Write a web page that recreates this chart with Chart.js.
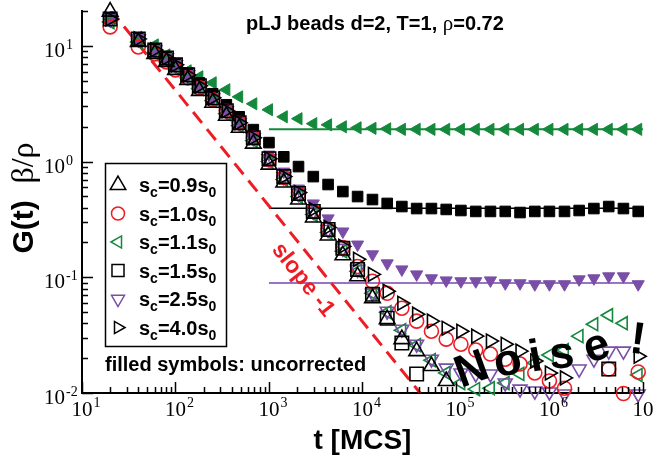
<!DOCTYPE html>
<html>
<head>
<meta charset="utf-8">
<script src="https://cdn.jsdelivr.net/npm/chart.js@4.4.0/dist/chart.umd.min.js"></script>
<style>
  html, body { margin: 0; padding: 0; background: #fff; }
  #wrap { width: 654px; height: 456px; position: relative; }
</style>
</head>
<body>
<div id="wrap"><canvas id="chart"></canvas></div>
<script>
// time grid [MCS]
const times = [20, 40, 60, 80, 100, 135, 180, 250, 350, 480, 680, 1000, 1440, 2070, 2980,
  4290, 6170, 8870, 12800, 18400, 26400, 38000, 54700, 78700, 113000, 163000, 234000,
  337000, 485000, 698000, 1000000, 1450000, 2080000, 2990000, 4310000, 6190000, 8910000];

// corrected G(t) beta/rho (open symbols)
const g09 = [19.8, 10.8, 8.53, 7.28, 6.21, 5.09, 4.09, 3.23, 2.49, 1.96, 1.43, 0.942, 0.659,
  0.470, 0.329, 0.230, 0.155, 0.102, 0.0659, 0.0435, 0.0292, 0.0230, 0.0171, 0.0127,
  null, null, null, null, null, null, null, null, null, null, null, null, null];
const g10 = [14.6, 9.8, 8.53, 7.28, 6.21, 5.30, 4.34, 3.42, 2.75, 2.17, 1.61, 1.04, 0.728,
  0.530, 0.371, 0.259, 0.181, 0.124, 0.0924, 0.0728, 0.0541, 0.0418, 0.0342, 0.0292,
  0.0264, 0.0235, 0.0217, 0.0196, 0.0178, 0.0149, 0.0127, 0.0110, null, null, 0.0161,
  0.0099, 0.0152];
const g11 = [16.1, 10.8, 8.70, 7.42, 6.46, 5.30, 4.26, 3.36, 2.59, 2.04, 1.52, 1.0, 0.700,
  0.499, 0.349, 0.244, 0.168, 0.113, 0.0728, 0.0499, 0.0349, 0.0259, 0.0192, 0.0149,
  0.0122, 0.0108, 0.0110, 0.0122, 0.0146, 0.0182, 0.0213, 0.0235, 0.0310, 0.0393, 0.0470,
  0.0401, 0.0143];
const g15 = [17.1, 11.5, 9.24, 7.88, 6.86, 5.62, 4.52, 3.56, 2.75, 2.17, 1.61, 1.06, 0.742,
  0.530, 0.371, 0.259, 0.178, 0.117, 0.0713, 0.0443, 0.0270, 0.0146, null, null, null,
  null, null, null, null, null, null, null, null, null, 0.0161, null, null];
const g25 = [17.1, 11.5, 9.24, 7.88, 6.86, 5.62, 4.52, 3.56, 2.75, 2.17, 1.61, 1.06, 0.742,
  0.530, 0.371, 0.259, 0.178, 0.117, 0.0728, 0.0509, 0.0356, 0.0264, 0.0196, 0.0164,
  0.0149, 0.0146, 0.0146, 0.0122, 0.0108, 0.0104, 0.0102, 0.0098, 0.0161, 0.0196, 0.0230,
  0.0230, 0.0098];
const g40 = [17.1, 11.5, 9.24, 7.88, 6.86, 5.62, 4.52, 3.56, 2.75, 2.17, 1.61, 1.06, 0.742,
  0.541, 0.386, 0.270, 0.185, 0.143, 0.106, 0.0757, 0.0597, 0.0480, 0.0418, 0.0363,
  0.0342, 0.0310, 0.0281, 0.0264, 0.0230, 0.0189, 0.0149, 0.0135, null, null, null, null,
  0.0208];

// uncorrected (filled symbols)
const g11raw = [17.1, 11.9, 10.2, 8.36, 7.0, 6.09, 5.41, 4.80, 4.18, 3.63, 3.16, 2.81, 2.44,
  2.35, 2.13, 2.08, 2.00, 1.96, 1.94, 1.92, 1.90, 1.90, 1.90, 1.90, 1.90, 1.90, 1.90, 1.90,
  1.90, 1.90, 1.90, 1.90, 1.90, 1.90, 1.90, 1.90, 1.90];
const g15raw = [17.1, 11.5, 9.42, 8.04, 7.0, 5.85, 4.80, 3.86, 3.10, 2.44, 1.89, 1.46, 1.10,
  0.906, 0.742, 0.634, 0.551, 0.499, 0.470, 0.435, 0.409, 0.393, 0.393, 0.386, 0.378,
  0.371, 0.371, 0.371, 0.363, 0.371, 0.371, 0.371, 0.378, 0.393, 0.409, 0.393, 0.371];
const g25raw = [17.1, 11.5, 9.24, 7.88, 6.86, 5.62, 4.52, 3.56, 2.81, 2.21, 1.68, 1.15, 0.820,
  0.585, 0.435, 0.323, 0.249, 0.192, 0.158, 0.132, 0.117, 0.106, 0.098, 0.094, 0.0924,
  0.0924, 0.094, 0.0888, 0.0888, 0.0871, 0.0871, 0.0871, 0.096, 0.098, 0.102, 0.102, 0.0871];

// plateau lines and slope -1 guide
const plateauT = [1000, 10000000];
const plateau11 = 1.90;
const plateau15 = 0.396;
const plateau25 = 0.0893;
const slopeT = [20, 41400];
const slopeG = [20.7, 0.01];

const legendLabels = ['0.9', '1.0', '1.1', '1.5', '2.5', '4.0'];
const xDecades = [1, 2, 3, 4, 5, 6, 7];
const yDecades = [-2, -1, 0, 1];

const GREEN = '#14893c';
const PURPLE = '#7a4ea6';
const RED = '#ee1d25';

function pts(vals) {
  const out = [];
  vals.forEach((v, i) => { if (v !== null) out.push({ x: times[i], y: v }); });
  return out;
}

function markers(vals, color, style, rot, r, filled, order) {
  return {
    data: pts(vals), showLine: false, clip: false, order,
    pointStyle: style, rotation: rot, pointRadius: r, pointHoverRadius: r,
    pointBorderColor: color, pointBorderWidth: filled ? 1 : 1.6,
    pointBackgroundColor: filled ? color : 'rgba(0,0,0,0)'
  };
}

function hline(val, color, width, order) {
  return {
    data: plateauT.map(t => ({ x: t, y: val })), showLine: true, pointRadius: 0,
    borderColor: color, borderWidth: width, order
  };
}

// legend entries (same order as legendLabels)
const legendSyms = [
  { color: '#000', style: 'triangle', rot: 0, r: 9 },
  { color: RED, style: 'circle', rot: 0, r: 6.5 },
  { color: GREEN, style: 'triangle', rot: 270, r: 7 },
  { color: '#000', style: 'rect', rot: 0, r: 8.5 },
  { color: PURPLE, style: 'triangle', rot: 180, r: 7.5 },
  { color: '#000', style: 'triangle', rot: 90, r: 7 }
];

function shape(ctx, s, x, y) {
  ctx.beginPath();
  if (s.style === 'circle') {
    ctx.arc(x, y, s.r, 0, Math.PI * 2);
  } else if (s.style === 'rect') {
    const h = s.r * Math.SQRT1_2;
    ctx.rect(x - h, y - h, 2 * h, 2 * h);
  } else {
    let rad = s.rot * Math.PI / 180;
    ctx.moveTo(x + Math.sin(rad) * s.r, y - Math.cos(rad) * s.r);
    rad += 2 * Math.PI / 3;
    ctx.lineTo(x + Math.sin(rad) * s.r, y - Math.cos(rad) * s.r);
    rad += 2 * Math.PI / 3;
    ctx.lineTo(x + Math.sin(rad) * s.r, y - Math.cos(rad) * s.r);
    ctx.closePath();
  }
  ctx.strokeStyle = s.color;
  ctx.lineWidth = 1.5;
  ctx.stroke();
}

const SERIF = '"Liberation Serif", "Times New Roman", serif';
const SANS = '"Liberation Sans", Arial, Helvetica, sans-serif';

const decor = {
  id: 'decor',
  afterDatasetsDraw(chart) {
    const { ctx, chartArea: a, scales: { x, y } } = chart;
    ctx.save();

    // inward ticks
    ctx.strokeStyle = '#000';
    ctx.lineWidth = 1.5;
    ctx.beginPath();
    xDecades.forEach(e => {
      for (let m = 1; m <= 9; m++) {
        if (e === 7 && m > 1) break;
        const px = Math.round(x.getPixelForValue(m * Math.pow(10, e))) + 0.5;
        const len = m === 1 ? 11 : 6;
        ctx.moveTo(px, a.bottom); ctx.lineTo(px, a.bottom - len);
      }
    });
    yDecades.forEach(e => {
      for (let m = 1; m <= 9; m++) {
        const v = m * Math.pow(10, e);
        if (v > 20.001) break;
        const py = Math.round(y.getPixelForValue(v)) + 0.5;
        const len = m === 1 ? 11 : 6;
        ctx.moveTo(a.left, py); ctx.lineTo(a.left + len, py);
      }
    });
    ctx.stroke();

    // tick labels 10^n
    ctx.fillStyle = '#000';
    ctx.textBaseline = 'alphabetic';
    xDecades.forEach(e => {
      const px = x.getPixelForValue(Math.pow(10, e));
      ctx.font = '21px ' + SERIF;
      const w = ctx.measureText('10').width;
      ctx.textAlign = 'left';
      ctx.fillText('10', px - w / 2, a.bottom + 23);
      ctx.font = '14px ' + SERIF;
      ctx.fillText(String(e), px + w / 2 + 1, a.bottom + 14);
    });
    yDecades.forEach(e => {
      const py = y.getPixelForValue(Math.pow(10, e));
      ctx.font = '21px ' + SERIF;
      ctx.textAlign = 'right';
      ctx.fillText('10', a.left - 17, py + 11);
      ctx.font = '14px ' + SERIF;
      ctx.textAlign = 'left';
      ctx.fillText(String(e), a.left - 16, py + 3);
    });

    // axis titles
    ctx.font = 'bold 28px ' + SANS;
    ctx.textAlign = 'center';
    ctx.fillText('t [MCS]', (a.left + a.right) / 2, 449);

    ctx.save();
    ctx.translate(33, 198);
    ctx.rotate(-Math.PI / 2);
    const p1 = 'G(t)  ';
    ctx.font = '32px ' + SERIF;
    const w2 = ctx.measureText('\u03b2/\u03c1').width;
    ctx.font = 'bold 30px ' + SANS;
    const w1 = ctx.measureText(p1).width;
    ctx.textAlign = 'left';
    ctx.fillText(p1, -(w1 + w2) / 2, 0);
    ctx.font = '32px ' + SERIF;
    ctx.fillText('\u03b2/\u03c1', -(w1 + w2) / 2 + w1, 0);
    ctx.restore();

    // title
    ctx.textAlign = 'left';
    ctx.font = 'bold 20px ' + SANS;
    const t1 = 'pLJ beads d=2, T=1, ';
    let tx = 246;
    ctx.fillText(t1, tx, 30);
    tx += ctx.measureText(t1).width;
    ctx.font = '21px ' + SERIF;
    ctx.fillText('\u03c1', tx, 30);
    tx += ctx.measureText('\u03c1').width;
    ctx.font = 'bold 20px ' + SANS;
    ctx.fillText('=0.72', tx, 30);

    // legend box
    ctx.fillStyle = '#fff';
    ctx.fillRect(105, 163, 121, 183);
    ctx.strokeStyle = '#000';
    ctx.lineWidth = 1.5;
    ctx.strokeRect(105.5, 163.5, 121, 183);
    legendLabels.forEach((lab, i) => {
      const ry = 185 + i * 28.5;
      shape(ctx, legendSyms[i], 118, ry);
      ctx.fillStyle = '#000';
      let lx = 139;
      ctx.font = 'bold 20px ' + SANS;
      ctx.fillText('s', lx, ry + 7);
      lx += ctx.measureText('s').width;
      ctx.font = 'bold 14px ' + SANS;
      ctx.fillText('c', lx, ry + 12);
      lx += ctx.measureText('c').width;
      ctx.font = 'bold 20px ' + SANS;
      const mid = '=' + lab + 's';
      ctx.fillText(mid, lx, ry + 7);
      lx += ctx.measureText(mid).width;
      ctx.font = 'bold 14px ' + SANS;
      ctx.fillText('0', lx, ry + 12);
    });

    ctx.font = 'bold 20px ' + SANS;
    ctx.fillStyle = '#000';
    ctx.fillText('filled symbols: uncorrected', 105, 371);

    // slope label
    ctx.save();
    ctx.translate(303, 280);
    ctx.rotate(52 * Math.PI / 180);
    ctx.fillStyle = RED;
    ctx.font = 'bold 23px ' + SANS;
    ctx.textAlign = 'center';
    ctx.textBaseline = 'middle';
    ctx.fillText('slope -1', 0, 0);
    ctx.restore();

    // "Noise!"
    const letters = [
      ['N', 471, 368, -20], ['o', 508, 363, -14], ['i', 535, 355, -10],
      ['s', 562, 356, -4], ['e', 597, 348, -18], ['!', 638, 338, 8]
    ];
    ctx.fillStyle = '#000';
    ctx.font = 'bold 45px ' + SANS;
    ctx.textAlign = 'center';
    ctx.textBaseline = 'alphabetic';
    letters.forEach(([ch, lx, ly, rot]) => {
      const m = ctx.measureText(ch);
      const hh = (m.actualBoundingBoxAscent - m.actualBoundingBoxDescent) / 2;
      ctx.save();
      ctx.translate(lx, ly);
      ctx.rotate(rot * Math.PI / 180);
      ctx.fillText(ch, 0, hh);
      ctx.restore();
    });

    ctx.restore();
  }
};

const axisCommon = {
  type: 'logarithmic',
  ticks: { display: false },
  grid: { display: false, drawTicks: false },
  border: { display: true, color: '#000', width: 2 },
  afterFit: (scale) => {
    if (scale.isHorizontal()) scale.height = 0; else scale.width = 0;
  }
};

new Chart(document.getElementById('chart'), {
  type: 'scatter',
  data: {
    datasets: [
      hline(plateau11, GREEN, 2, 20),
      hline(plateau15, '#000', 1.5, 20),
      hline(plateau25, '#9a72c6', 2, 20),
      {
        data: slopeT.map((t, i) => ({ x: t, y: slopeG[i] })), showLine: true, pointRadius: 0,
        borderColor: RED, borderWidth: 3, borderDash: [14, 8], order: 19
      },
      markers(g11raw, GREEN, 'triangle', 270, 7, true, 12),
      markers(g15raw, '#000', 'rect', 0, 7.5, true, 11),
      markers(g25raw, PURPLE, 'triangle', 180, 7, true, 10),
      markers(g11, GREEN, 'triangle', 270, 7.5, false, 8),
      markers(g25, PURPLE, 'triangle', 180, 8, false, 7),
      markers(g10, RED, 'circle', 0, 7, false, 6),
      markers(g15, '#000', 'rect', 0, 9.5, false, 5),
      markers(g09, '#000', 'triangle', 0, 9, false, 4),
      markers(g40, '#000', 'triangle', 90, 8, false, 3)
    ]
  },
  options: {
    responsive: true,
    maintainAspectRatio: false,
    animation: false,
    events: [],
    layout: { padding: { left: 82, right: 8, top: 9, bottom: 63 } },
    plugins: { legend: { display: false }, tooltip: { enabled: false } },
    scales: {
      x: { ...axisCommon, min: 10, max: 10000000 },
      y: { ...axisCommon, min: 0.01, max: 20 }
    }
  },
  plugins: [decor]
});
</script>
</body>
</html>
